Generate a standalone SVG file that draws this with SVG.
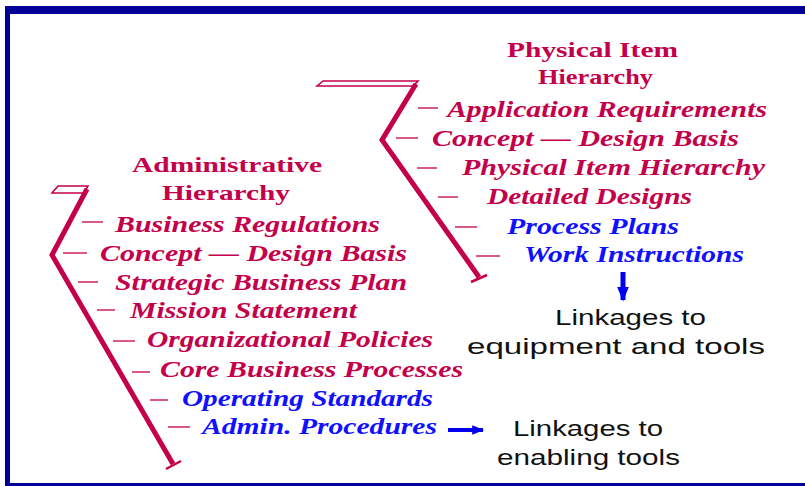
<svg xmlns="http://www.w3.org/2000/svg" width="805" height="486" viewBox="0 0 805 486">
  <style>
    .ttl { font-family: "Liberation Serif", "Times New Roman", serif; font-weight: bold; fill: #c4004a; }
    .itm { font-family: "Liberation Serif", "Times New Roman", serif; font-weight: bold; font-style: italic; font-size: 23px; fill: #c4004a; }
    .blu { fill: #1010ff; }
    .lnk { font-family: "Liberation Sans", Arial, sans-serif; font-size: 22px; fill: #111; }
    .spine { fill: none; stroke: #c4004a; stroke-width: 5; stroke-linejoin: miter; }
    .cap { fill: none; stroke: #c4004a; stroke-width: 1.6; }
    .tick { stroke: #c4004a; stroke-width: 2.5; }
    .dash { stroke: #d0306a; stroke-width: 1.6; }
  </style>
  <defs>
    <marker id="blueHead" viewBox="0 0 10 10" refX="9" refY="5" markerWidth="3" markerHeight="3" orient="auto" markerUnits="strokeWidth">
      <path d="M0,1 L10,5 L0,9 Z" fill="#0000ee"/>
    </marker>
  </defs>

  <!-- frame -->
  <g id="frame" fill="#000099">
    <rect x="5" y="6" width="800" height="8"/>
    <rect x="5" y="6" width="5" height="480"/>
    <rect x="5" y="483" width="800" height="3"/>
  </g>

  <!-- hierarchy spines and tick dashes -->
  <g id="connectors">
    <polygon class="cap" points="52,193 58,186 88,186 84,193"/>
    <polyline class="spine" points="87,189 52,255 173,464"/>
    <line class="tick" x1="166" y1="469" x2="181" y2="461"/>

    <polygon class="cap" points="317,86 323,81 418,81 413,86"/>
    <polyline class="spine" points="416,84 382,140 479,277"/>
    <line class="tick" x1="471" y1="282" x2="487" y2="275"/>

    <line class="dash" x1="82" y1="222" x2="103" y2="222"/>
    <line class="dash" x1="63" y1="253" x2="87" y2="253"/>
    <line class="dash" x1="78" y1="282" x2="98" y2="282"/>
    <line class="dash" x1="97" y1="310" x2="115" y2="310"/>
    <line class="dash" x1="113" y1="341" x2="135" y2="341"/>
    <line class="dash" x1="132" y1="372" x2="150" y2="372"/>
    <line class="dash" x1="150" y1="400" x2="168" y2="400"/>
    <line class="dash" x1="168" y1="427" x2="190" y2="427"/>

    <line class="dash" x1="418" y1="108" x2="438" y2="108"/>
    <line class="dash" x1="396" y1="138" x2="418" y2="138"/>
    <line class="dash" x1="417" y1="168" x2="437" y2="168"/>
    <line class="dash" x1="438" y1="197" x2="458" y2="197"/>
    <line class="dash" x1="455" y1="227" x2="477" y2="227"/>
    <line class="dash" x1="476" y1="256" x2="500" y2="256"/>

    <line x1="448" y1="430" x2="483" y2="430" stroke="#0000ee" stroke-width="4" marker-end="url(#blueHead)"/>
    <line x1="623" y1="272" x2="623" y2="300" stroke="#0000ee" stroke-width="5" marker-end="url(#blueHead)"/>
  </g>

  <!-- administrative hierarchy -->
  <g id="admin-hierarchy">
    <text class="ttl" font-size="22" x="132" y="172" textLength="190" lengthAdjust="spacingAndGlyphs">Administrative</text>
    <text class="ttl" font-size="22" x="162" y="200" textLength="128" lengthAdjust="spacingAndGlyphs">Hierarchy</text>
    <text class="itm" x="115" y="232" textLength="265" lengthAdjust="spacingAndGlyphs">Business Regulations</text>
    <text class="itm" x="100" y="261" textLength="307" lengthAdjust="spacingAndGlyphs">Concept — Design Basis</text>
    <text class="itm" x="115" y="290" textLength="292" lengthAdjust="spacingAndGlyphs">Strategic Business Plan</text>
    <text class="itm" x="130" y="318" textLength="227" lengthAdjust="spacingAndGlyphs">Mission Statement</text>
    <text class="itm" x="147" y="347" textLength="286" lengthAdjust="spacingAndGlyphs">Organizational Policies</text>
    <text class="itm" x="160" y="377" textLength="303" lengthAdjust="spacingAndGlyphs">Core Business Processes</text>
    <text class="itm blu" x="182" y="406" textLength="251" lengthAdjust="spacingAndGlyphs">Operating Standards</text>
    <text class="itm blu" x="202" y="434" textLength="235" lengthAdjust="spacingAndGlyphs">Admin. Procedures</text>
  </g>

  <!-- physical item hierarchy -->
  <g id="physical-hierarchy">
    <text class="ttl" font-size="21" x="507" y="57" textLength="171" lengthAdjust="spacingAndGlyphs">Physical Item</text>
    <text class="ttl" font-size="21" x="538" y="84" textLength="115" lengthAdjust="spacingAndGlyphs">Hierarchy</text>
    <text class="itm" x="447" y="117" textLength="320" lengthAdjust="spacingAndGlyphs">Application Requirements</text>
    <text class="itm" x="432" y="146" textLength="307" lengthAdjust="spacingAndGlyphs">Concept — Design Basis</text>
    <text class="itm" x="462" y="175" textLength="303" lengthAdjust="spacingAndGlyphs">Physical Item Hierarchy</text>
    <text class="itm" x="487" y="204" textLength="205" lengthAdjust="spacingAndGlyphs">Detailed Designs</text>
    <text class="itm blu" x="507" y="234" textLength="172" lengthAdjust="spacingAndGlyphs">Process Plans</text>
    <text class="itm blu" x="524" y="262" textLength="220" lengthAdjust="spacingAndGlyphs">Work Instructions</text>
  </g>

  <!-- linkage notes -->
  <g id="equipment-linkage">
    <text class="lnk" x="555" y="325" textLength="151" lengthAdjust="spacingAndGlyphs">Linkages to</text>
    <text class="lnk" x="467" y="354" textLength="298" lengthAdjust="spacingAndGlyphs">equipment and tools</text>
  </g>
  <g id="enabling-linkage">
    <text class="lnk" x="513" y="436" textLength="150" lengthAdjust="spacingAndGlyphs">Linkages to</text>
    <text class="lnk" x="497" y="465" textLength="183" lengthAdjust="spacingAndGlyphs">enabling tools</text>
  </g>
</svg>
